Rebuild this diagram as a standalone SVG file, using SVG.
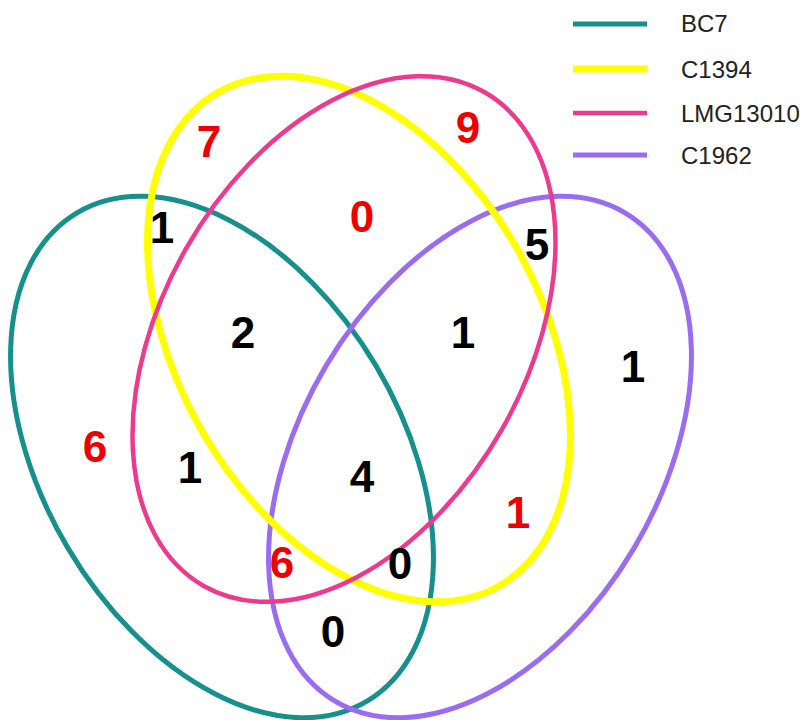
<svg xmlns="http://www.w3.org/2000/svg" width="810" height="720" viewBox="0 0 810 720">
<style>
.e{fill:none}
.bc7{stroke:#15908c;stroke-width:5}
.c1394{stroke:#ffff00;stroke-width:7}
.lmg{stroke:#ee3a8e;stroke-width:4.5}
.c1962{stroke:#9a6cf2;stroke-width:5}
.n{font-family:"Liberation Sans",Arial,sans-serif;font-weight:bold;font-size:44px;text-anchor:middle}
.r{fill:#ee0000}
.k{fill:#000000}
.lg{font-family:"Liberation Sans",Arial,sans-serif;font-size:24px;fill:#222222}
</style>
<rect width="810" height="720" fill="#ffffff"/>
<g id="sets">
<ellipse id="BC7" class="e bc7" cx="222" cy="457" rx="284" ry="179" transform="rotate(59.3 222 457)"/>
<ellipse id="C1962" class="e c1962" cx="480" cy="457" rx="284" ry="179" transform="rotate(-59.3 480 457)"/>
<ellipse id="C1394" class="e c1394" cx="359" cy="339" rx="284" ry="182" transform="rotate(60.4 359 339)"/>
<ellipse id="LMG13010" class="e lmg" cx="344" cy="339" rx="284" ry="182" transform="rotate(-60.4 344 339)"/>
</g>
<g id="counts">
<text class="n r" x="209" y="157">7</text>
<text class="n r" x="468" y="143">9</text>
<text class="n r" x="362" y="232">0</text>
<text class="n k" x="162" y="243">1</text>
<text class="n k" x="537" y="260">5</text>
<text class="n k" x="243" y="348">2</text>
<text class="n k" x="463" y="348">1</text>
<text class="n k" x="633" y="382">1</text>
<text class="n r" x="95" y="462">6</text>
<text class="n k" x="190" y="483">1</text>
<text class="n k" x="362" y="492">4</text>
<text class="n r" x="518" y="528">1</text>
<text class="n r" x="282" y="578">6</text>
<text class="n k" x="400" y="579">0</text>
<text class="n k" x="333" y="647">0</text>
</g>
<g id="legend">
<line class="bc7" x1="573" y1="24" x2="647" y2="24"/>
<line class="c1394" x1="573" y1="69" x2="647" y2="69"/>
<line class="lmg" x1="573" y1="113" x2="647" y2="113"/>
<line class="c1962" x1="573" y1="155" x2="647" y2="155"/>
<text class="lg" x="681" y="32">BC7</text>
<text class="lg" x="681" y="78">C1394</text>
<text class="lg" x="681" y="122">LMG13010</text>
<text class="lg" x="681" y="164">C1962</text>
</g>
</svg>
